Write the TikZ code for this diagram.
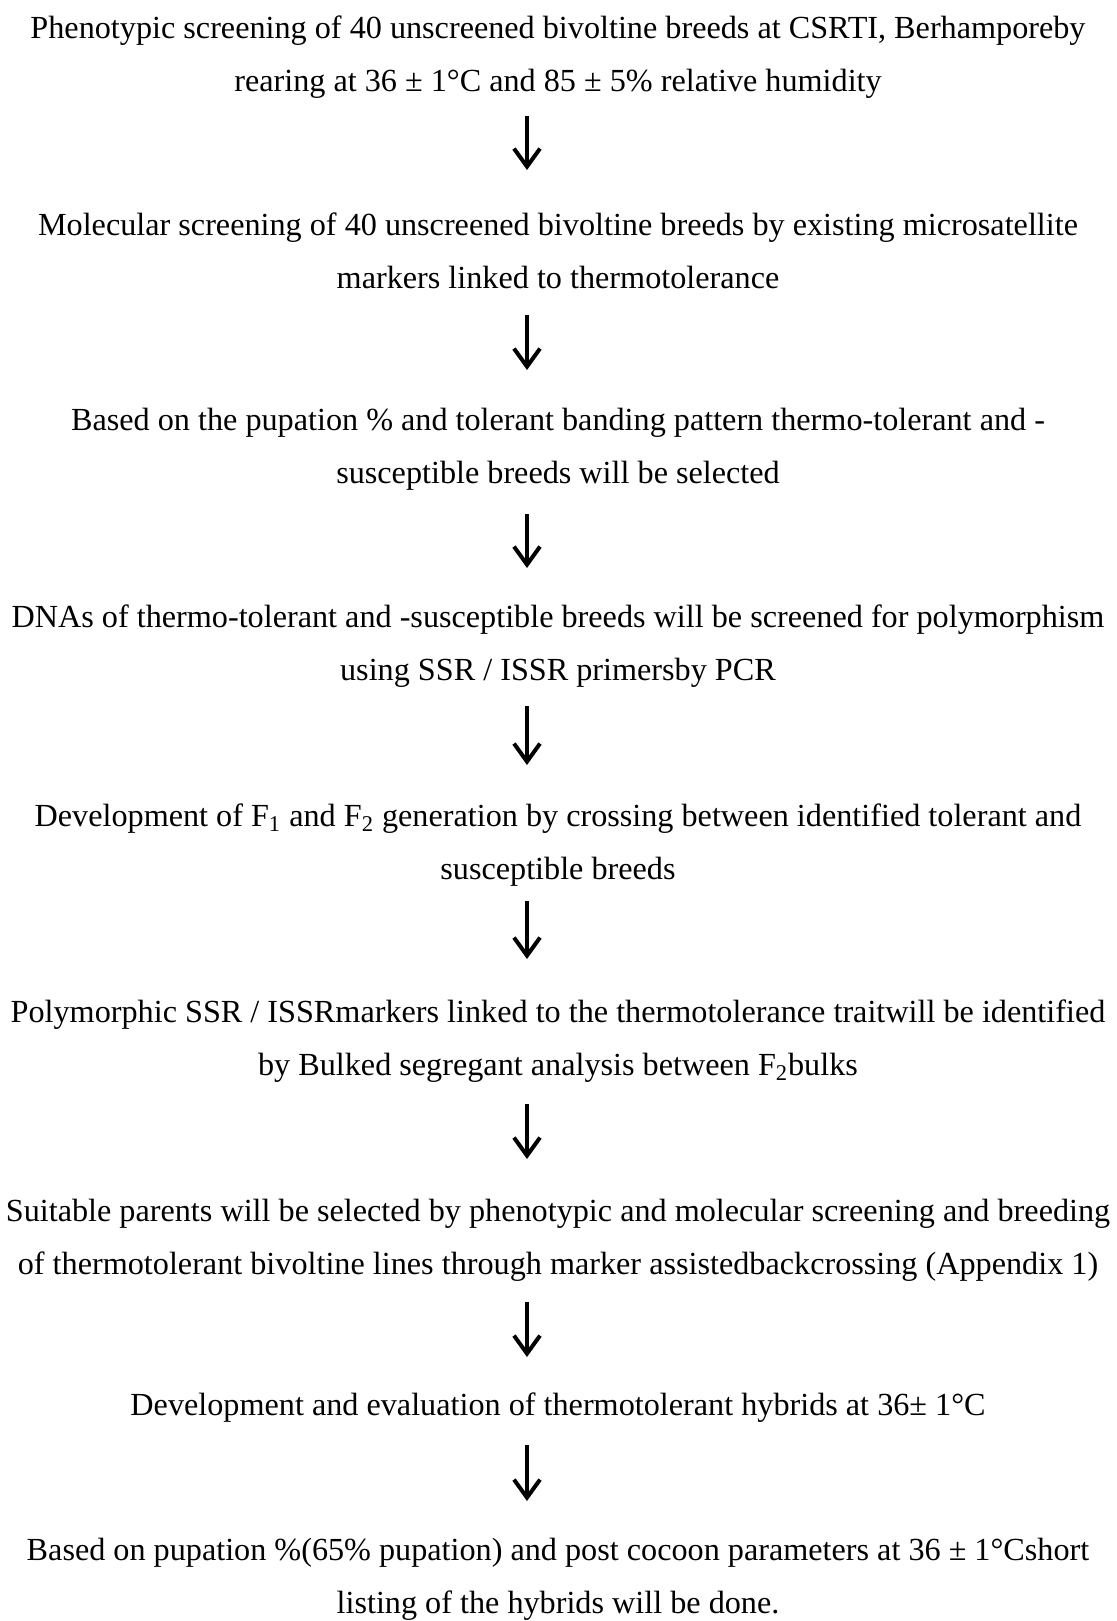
\documentclass[tikz,border=0pt]{standalone}
\usepackage{fontspec}
\setmainfont{Liberation Serif}
\usetikzlibrary{arrows.meta}

\begin{document}
\begin{tikzpicture}[x=1pt,y=1pt,
  every node/.style={align=center, inner sep=0pt, font=\fontsize{16.1}{26.5}\selectfont},
  flow/.style={line width=2pt, -{Straight Barb[length=9pt,width=13pt,line width=2pt]}}]
  \useasboundingbox (0,0) rectangle (558,-810.5);
  \node (phen) at (279,-28.5) {Phenotypic screening of 40 unscreened bivoltine breeds at CSRTI, Berhamporeby\\rearing at 36 ± 1°C and 85 ± 5\% relative humidity};
  \node (molec) at (279,-125.5) {Molecular screening of 40 unscreened bivoltine breeds by existing microsatellite\\markers linked to thermotolerance};
  \node (sel) at (279,-224.5) {Based on the pupation \% and tolerant banding pattern thermo-tolerant and -\\susceptible breeds will be selected};
  \node (dnas) at (279,-323) {DNAs of thermo-tolerant and -susceptible breeds will be screened for polymorphism\\using SSR / ISSR primersby PCR};
  \node (devf) at (279,-422.5) {Development of F\textsubscript{1} and F\textsubscript{2} generation by crossing between identified tolerant and\\susceptible breeds};
  \node (poly) at (279,-520.5) {Polymorphic SSR / ISSRmarkers linked to the thermotolerance traitwill be identified\\by Bulked segregant analysis between F\textsubscript{2}bulks};
  \node (suit) at (279,-620) {Suitable parents will be selected by phenotypic and molecular screening and breeding\\of thermotolerant bivoltine lines through marker assistedbackcrossing (Appendix 1)};
  \node (hyb) at (279,-704) {Development and evaluation of thermotolerant hybrids at 36± 1°C};
  \node (short) at (279,-789.5) {Based on pupation \%(65\% pupation) and post cocoon parameters at 36 ± 1°Cshort\\listing of the hybrids will be done.};
  % arrows between the steps
  \foreach \i/\ya/\yb in {1/-58/-85, 2/-157.5/-185, 3/-257/-284, 4/-353/-382.5,
                         5/-450.5/-479.5, 6/-552/-579.5, 7/-651/-678.5, 8/-722.5/-750.5}{
    \coordinate (s\i) at (263.5,\ya);
    \coordinate (e\i) at (263.5,\yb);
    \draw[flow] (s\i) -- (e\i);
  }
\end{tikzpicture}
\end{document}
